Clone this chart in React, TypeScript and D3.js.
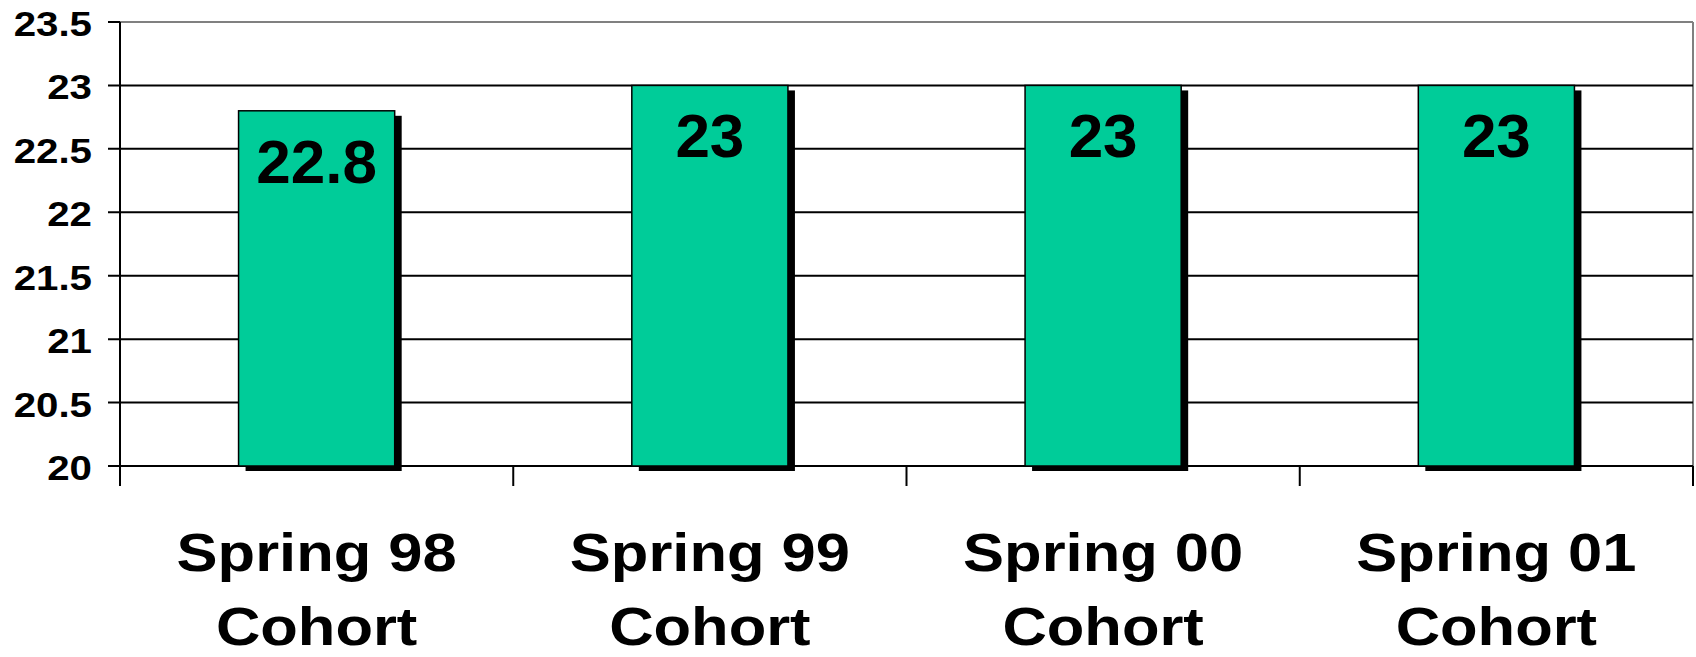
import { useRef, useEffect } from 'react';
import * as d3 from 'd3';

var CATEGORIES = ['Spring 98', 'Spring 99', 'Spring 00', 'Spring 01'];
var VALUES = [22.8, 23, 23, 23];
var Y_TICKS = [20, 20.5, 21, 21.5, 22, 22.5, 23, 23.5];
var SUBLABEL = 'Cohort';

var WIDTH = 1696;
var HEIGHT = 657;
var BAR_COLOR = '#00CC99';
var BAR_FRACTION = 0.397;

export default function App() {
  var svgRef = useRef<SVGSVGElement | null>(null);

  useEffect(function () {
    var svg = d3.select(svgRef.current);
    svg.selectAll('*').remove();

    var margin = { top: 22, right: 3, bottom: 191, left: 120 };
    var innerWidth = WIDTH - margin.left - margin.right;
    var innerHeight = HEIGHT - margin.top - margin.bottom;
    var font = 'Liberation Sans, Arial, Helvetica, sans-serif';

    var g = svg.append('g')
      .attr('transform', 'translate(' + margin.left + ',' + margin.top + ')');

    var xCat = d3.scaleBand().domain(CATEGORIES).range([0, innerWidth]).padding(0);
    var barW = xCat.bandwidth() * BAR_FRACTION;
    var barX = function (i: number) {
      return (xCat(CATEGORIES[i]) as number) + xCat.bandwidth() / 2 - barW / 2;
    };
    var y = d3.scaleLinear().domain([20, 23.5]).range([innerHeight, 0]);

    // plot border (top + right in gray)
    g.append('line')
      .attr('x1', 0).attr('x2', innerWidth)
      .attr('y1', 0).attr('y2', 0)
      .attr('stroke', '#808080').attr('stroke-width', 2);
    g.append('line')
      .attr('x1', innerWidth).attr('x2', innerWidth)
      .attr('y1', 0).attr('y2', innerHeight)
      .attr('stroke', '#808080').attr('stroke-width', 2);

    // grid lines
    g.selectAll('.grid')
      .data(Y_TICKS.slice(0, -1))
      .join('line')
      .attr('class', 'grid')
      .attr('x1', -12).attr('x2', innerWidth)
      .attr('y1', function (d) { return y(d); })
      .attr('y2', function (d) { return y(d); })
      .attr('stroke', '#000').attr('stroke-width', 2);

    // top tick
    g.append('line')
      .attr('x1', -12).attr('x2', 0)
      .attr('y1', y(23.5)).attr('y2', y(23.5))
      .attr('stroke', '#000').attr('stroke-width', 2);

    // y tick labels
    g.selectAll('.ylab')
      .data(Y_TICKS)
      .join('text')
      .attr('class', 'ylab')
      .attr('transform', function (d) { return 'translate(-28,' + (y(d) + 14) + ') scale(1.15,1)'; })
      .attr('text-anchor', 'end')
      .attr('font-family', font)
      .attr('font-weight', 'bold')
      .attr('font-size', 35)
      .attr('fill', '#000')
      .text(function (d) { return String(d); });

    // shadows
    g.selectAll('.shadow')
      .data(VALUES)
      .join('rect')
      .attr('class', 'shadow')
      .attr('x', function (d, i) { return barX(i) + 7; })
      .attr('y', function (d) { return y(d) + 5; })
      .attr('width', barW)
      .attr('height', function (d) { return innerHeight - y(d); })
      .attr('fill', '#000');

    // bars
    g.selectAll('.bar')
      .data(VALUES)
      .join('rect')
      .attr('class', 'bar')
      .attr('x', function (d, i) { return barX(i); })
      .attr('y', function (d) { return y(d); })
      .attr('width', barW)
      .attr('height', function (d) { return innerHeight - y(d); })
      .attr('fill', BAR_COLOR)
      .attr('stroke', '#000')
      .attr('stroke-width', 1.5);

    // value labels
    g.selectAll('.val')
      .data(VALUES)
      .join('text')
      .attr('class', 'val')
      .attr('x', function (d, i) { return barX(i) + barW / 2; })
      .attr('y', function (d) { return y(d) + 72; })
      .attr('text-anchor', 'middle')
      .attr('font-family', font)
      .attr('font-weight', 'bold')
      .attr('font-size', 62)
      .attr('fill', '#000')
      .text(function (d) { return String(d); });

    // left axis
    g.append('line')
      .attr('x1', 0).attr('x2', 0)
      .attr('y1', 0).attr('y2', innerHeight + 20)
      .attr('stroke', '#000').attr('stroke-width', 2);

    // category ticks
    g.selectAll('.xtick')
      .data(CATEGORIES)
      .join('line')
      .attr('class', 'xtick')
      .attr('x1', function (d) { return (xCat(d) as number) + xCat.step(); })
      .attr('x2', function (d) { return (xCat(d) as number) + xCat.step(); })
      .attr('y1', innerHeight)
      .attr('y2', innerHeight + 20)
      .attr('stroke', '#000').attr('stroke-width', 2);

    // category labels
    var labels = g.selectAll('.xlab')
      .data(CATEGORIES)
      .join('g')
      .attr('class', 'xlab')
      .attr('transform', function (d) {
        return 'translate(' + ((xCat(d) as number) + xCat.bandwidth() / 2) + ',' + innerHeight + ') scale(1.16,1)';
      });

    labels.append('text')
      .attr('y', 105)
      .attr('text-anchor', 'middle')
      .attr('font-family', font)
      .attr('font-weight', 'bold')
      .attr('font-size', 53)
      .attr('fill', '#000')
      .text(function (d) { return d; });

    labels.append('text')
      .attr('y', 179)
      .attr('text-anchor', 'middle')
      .attr('font-family', font)
      .attr('font-weight', 'bold')
      .attr('font-size', 53)
      .attr('fill', '#000')
      .text(SUBLABEL);
  }, []);

  return (
    <svg
      ref={svgRef}
      width={WIDTH}
      height={HEIGHT}
      style={{ position: 'absolute', left: 0, top: 0, background: '#fff' }}
    />
  );
}
